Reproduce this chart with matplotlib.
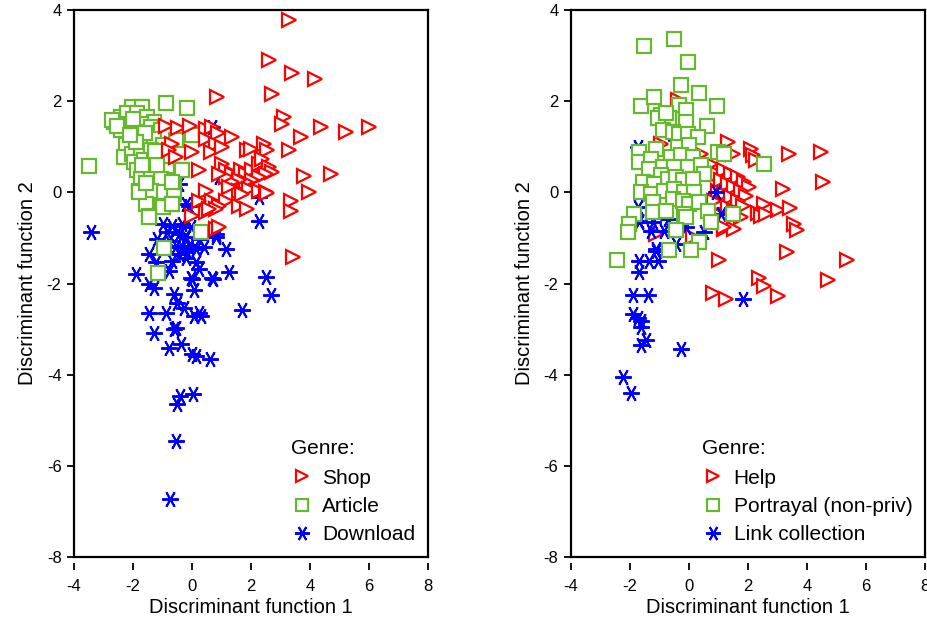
import matplotlib.pyplot as plt
import numpy as np

plt.rcParams['font.family'] = ['Liberation Sans', 'DejaVu Sans']
plt.rcParams['axes.unicode_minus'] = False

# ---- left panel: Shop / Article / Download ----
shop_x = [3.29, 2.61, 3.4, 4.17, 2.72, 0.84, 3.12, 3.05, 4.37, 5.22, 6.0, 3.68, 3.29, 3.8, 4.7,
          3.97, 3.34, 3.34, 3.42, -0.89, -0.46, -0.08, 0.46, 0.68, 0.88, 1.36, 0.46, 0.8, -0.67,
          -0.78, 0.01, 0.63, 1.03, 1.87, 1.99, 2.44, 2.55, -0.55, 0.24, 1.03, 1.14, 1.37, 1.65,
          1.82, 2.04, 2.27, 2.38, 2.61, 2.72, 2.5, 2.27, 2.04, 1.82, 1.59, 1.37, 1.14, 0.92, 1.59,
          1.93, 2.27, 2.5, 2.54, 1.71, 1.25, 0.46, 0.69, 1.14, 1.59, 1.87, 0.24, 0.92, 0.8, 0.46,
          0.58, 0.01, 0.8, 0.92]
shop_y = [3.79, 2.91, 2.61, 2.48, 2.16, 2.09, 1.65, 1.5, 1.43, 1.33, 1.43, 1.21, 0.93, 0.36, 0.41,
          0.0, -0.18, -0.4, -1.41, 1.45, 1.42, 1.45, 1.40, 1.43, 1.31, 1.22, 1.17, 1.07, 1.07,
          0.93, 0.89, 0.89, 0.99, 0.93, 0.96, 1.07, 0.93, 0.78, 0.48, 0.63, 0.48, 0.41, 0.48,
          0.41, 0.48, 0.63, 0.74, 0.56, 0.45, 0.41, 0.34, 0.26, 0.23, 0.26, 0.23, 0.34, 0.41, 0.04,
          0.08, 0.04, 0.01, -0.02, -0.03, 0.12, 0.04, -0.18, -0.18, -0.29, -0.36, -0.18, -0.29, -0.36, -0.43,
          -0.36, -0.51, -0.8, -0.76]

article_x = [-3.49, -2.02, -1.68, -0.89, -0.16, -2.64, -2.42, -2.19, -1.85, -1.51, -1.29, -2.29, -2.08,
             -1.74, -1.4, -2.42, -1.85, -1.06, -0.84, -2.25, -1.29, -1.0, -0.55, -0.04, -2.29, -2.02,
             -1.74, -1.4, -1.06, -1.97, -1.63, -1.29, -0.95, -1.85, -1.51, -1.18, -0.84, -0.38, -1.74,
             -1.4, -1.06, -0.61, -1.8, -1.4, -0.95, -0.61, -1.57, -1.06, -0.67, -1.46, -1.0, -0.01,
             -0.35, -0.67, -1.46, -1.8, -0.67, 0.29, -0.95, -1.15, -2.7, -2.55, -2.0, -1.6, -1.2,
             -1.9, -1.55, -1.25, -2.1, -1.7]
article_y = [0.57, 1.88, 1.88, 1.95, 1.84, 1.55, 1.66, 1.73, 1.73, 1.66, 1.55, 1.51, 1.44,
             1.51, 1.44, 1.37, 1.33, 1.37, 1.26, 1.04, 1.18, 1.04, 1.15, 1.26, 0.78, 0.85,
             0.89, 0.93, 0.85, 0.67, 0.7, 0.67, 0.7, 0.48, 0.48, 0.52, 0.48, 0.48, 0.3,
             0.34, 0.3, 0.26, 0.04, 0.04, 0.01, -0.03, -0.25, -0.29, -0.25, -0.51, -0.32, 1.26,
             0.5, 0.23, -0.54, 0.0, -0.25, -0.86, -1.22, -1.76, 1.58, 1.45, 1.6, 1.3, 0.6,
             1.1, 0.2, 0.9, 1.25, 0.6]

download_x = [-3.41, 2.27, -1.91, -1.46, -1.29, -0.61, -0.5, 0.07, 0.01, 0.71, 1.25, 2.5, 2.69, 1.68,
              -1.46, -0.89, -0.27, 0.07, 0.24, 0.29, -1.29, -0.61, -0.55, -0.78, -0.36, 0.01, 0.12,
              0.6, -0.42, 0.03, -0.5, -0.55, -0.76, -0.1, -1.0, -0.67, -0.33, -0.04, -0.84, -0.44,
              -0.21, -1.18, 0.41, 0.8, -0.55, -0.33, -0.1, 0.12, 0.41, -0.44, -0.16, -1.46, 1.14,
              -0.67, 0.12, -1.23, -0.78, 0.24, -0.04, 0.69, 0.24, -0.78, -0.21, 0.69, -0.44, 0.92,
              2.27, -0.21, 0.8]
download_y = [-0.88, -0.62, -1.8, -2.02, -2.1, -2.23, -2.42, -2.14, -1.9, -1.9, -1.75, -1.85, -2.25, -2.58,
              -2.64, -2.64, -2.53, -2.71, -2.64, -2.71, -3.08, -3.0, -2.97, -3.41, -3.33, -3.55, -3.59,
              -3.66, -4.47, -4.42, -4.65, -5.45, -6.72, -0.29, -0.69, -0.73, -0.69, -0.76, -0.87, -0.91,
              -0.98, -1.02, -0.87, -0.98, -1.17, -1.2, -1.17, -1.24, -1.2, -1.35, -1.31, -1.35, -1.24,
              -1.5, -1.53, -1.53, -1.72, -1.68, -1.87, -1.88, -1.02, -1.06, -1.43, 1.44, 0.19, 0.34,
              -0.1, -0.25, -0.91]

# ---- right panel: Help / Portrayal / Link collection ----
help_x = [1.31, 2.1, 2.16, 2.27, 3.4, 4.47, 4.53, 3.18, 1.48, 0.75, 0.97, 1.2, 1.42, 1.65, 1.87, 2.04,
          1.08, 1.31, 1.54, 1.76, 1.93, 0.97, 1.2, 1.42, 1.65, 1.82, 1.08, 1.31, 1.54, 1.76, 0.86,
          0.97, 2.55, 3.0, 3.43, 2.33, 2.44, 2.61, 3.57, 3.66, 1.2, 1.54, -1.12, 0.12, 3.32, 1.03,
          5.36, 2.38, 2.55, 4.7, 3.0, 0.8, 1.25, -0.38, 0.41, -0.95, 1.2]
help_y = [1.11, 0.96, 0.81, 0.7, 0.85, 0.89, 0.23, 0.08, 0.85, 0.63, 0.41, 0.48, 0.41, 0.34, 0.23, 0.12,
          0.26, 0.19, 0.12, 0.04, -0.07, 0.04, -0.03, -0.1, -0.18, -0.29, -0.25, -0.32, -0.43, -0.54, -0.18,
          -0.47, -0.25, -0.38, -0.34, -0.46, -0.51, -0.47, -0.7, -0.82, -0.8, -0.8, -0.91, -0.98, -1.31, -1.48,
          -1.48, -1.87, -2.05, -1.92, -2.27, -2.2, -2.34, 2.03, 0.85, 1.07, -0.76]

portrayal_x = [-1.54, -0.52, -0.05, -0.27, 0.35, -1.63, -1.2, 0.95, -0.33, -0.1, -0.84, -0.95, -0.67,
               -1.06, -0.78, -0.1, 0.61, -0.89, -0.55, -0.33, -0.04, 0.29, -0.38, 0.01, -1.68, -1.12,
               0.97, 1.18, 2.53, -1.68, -1.29, -0.61, -0.27, 0.12, -0.89, -1.34, -0.5, -0.04, 0.41,
               0.52, -0.95, -0.72, -0.44, -0.21, 0.12, -1.57, -1.18, -1.63, -1.29, -0.84, -0.5, -0.16,
               0.18, -0.55, -0.21, 0.01, 0.35, -1.23, -1.85, -1.23, -0.78, -0.16, 0.63, 1.48, -0.1,
               -2.02, -2.08, -0.44, 0.75, 0.35, -0.67, 0.07, -2.44]
portrayal_y = [3.22, 3.36, 2.87, 2.36, 2.17, 1.89, 2.09, 1.89, 1.92, 1.81, 1.66, 1.7, 1.62,
               1.62, 1.73, 1.55, 1.45, 1.37, 1.33, 1.29, 1.29, 1.22, 1.0, 1.04, 0.89, 0.96,
               0.89, 0.85, 0.63, 0.67, 0.74, 0.78, 0.81, 0.78, 0.56, 0.52, 0.56, 0.56, 0.59,
               0.41, 0.37, 0.3, 0.34, 0.26, 0.3, 0.23, 0.19, 0.01, -0.03, 0.04, 0.08, 0.01,
               0.01, -0.14, -0.18, -0.25, -0.21, -0.21, -0.47, -0.43, -0.4, -0.47, -0.4, -0.47, -0.54,
               -0.7, -0.87, -0.82, -0.65, -1.09, -1.26, -1.26, -1.48]

link_x = [-1.68, -1.34, -1.06, -1.12, -1.68, -1.91, -1.4, -1.91, -1.74, -1.63, -1.63, -1.46, -1.63,
          -0.27, -2.25, -1.97, -0.84, -0.44, 0.52, -1.68, -1.23, 0.92, 1.08, 1.82, -1.12, -1.74,
          -1.68, -1.29, -0.1, -0.72, -1.74, -0.44]
link_y = [-1.5, -1.5, -1.5, -1.28, -1.75, -2.25, -2.25, -2.67, -2.75, -2.82, -2.95, -3.24, -3.35,
          -3.43, -4.05, -4.4, -0.84, -1.13, -0.87, -0.65, -0.65, 0.01, -0.47, -2.33, -1.24, -0.32,
          -0.62, -0.84, -0.76, -0.58, 1.0, 1.15]

red = '#FF0000'
green = '#66B82E'
blue = '#0000FF'
aster = (6, 2, 90)

fig = plt.figure(figsize=(9.28, 6.22), dpi=100)
ax1 = fig.add_axes([74 / 928, 65 / 622, 354 / 928, 547 / 622])
ax2 = fig.add_axes([571 / 928, 65 / 622, 354 / 928, 547 / 622])


def scatter_layer(ax, x, y, kind, color, label):
    if kind == 'tri':
        ax.plot(x, y, ls='none', marker='>', ms=10, mfc='white', mec=color, mew=1.6, label=label)
    elif kind == 'sq':
        ax.plot(x, y, ls='none', marker='s', ms=9.5, mfc='white', mec=color, mew=1.6, label=label)
    else:
        ax.plot(x, y, ls='none', marker=aster, ms=12, mec=color, mew=1.4, label=label)


# left: blue, green, red drawn in that order
scatter_layer(ax1, download_x, download_y, 'ast', blue, 'Download')
scatter_layer(ax1, article_x, article_y, 'sq', green, 'Article')
scatter_layer(ax1, shop_x, shop_y, 'tri', red, 'Shop')
legend_order1 = ['Shop', 'Article', 'Download']

# right: red, blue, green
scatter_layer(ax2, help_x, help_y, 'tri', red, 'Help')
scatter_layer(ax2, link_x, link_y, 'ast', blue, 'Link collection')
scatter_layer(ax2, portrayal_x, portrayal_y, 'sq', green, 'Portrayal (non-priv)')
legend_order2 = ['Help', 'Portrayal (non-priv)', 'Link collection']

for ax, order in ((ax1, legend_order1), (ax2, legend_order2)):
    ax.set_xlim(-4, 8)
    ax.set_ylim(-8, 4)
    ax.set_xticks(np.arange(-4, 9, 2))
    ax.set_yticks(np.arange(-8, 5, 2))
    for s in ax.spines.values():
        s.set_linewidth(1.6)
    # ticks of x axis sit a little below the box
    ax.spines['bottom'].set_position(('outward', 4))
    ax.spines['bottom'].set_color('none')
    ax.plot([0, 1], [0, 0], transform=ax.transAxes, color='black', lw=1.6,
            clip_on=False, solid_capstyle='projecting')
    ax.tick_params(direction='out', length=5, width=1.3, labelsize=12, pad=4)
    ax.tick_params(axis='x', pad=7)
    ax.set_xlabel('Discriminant function 1', fontsize=14.5, labelpad=3)
    ax.set_ylabel('Discriminant function 2', fontsize=14.5, labelpad=7)
    h, l = ax.get_legend_handles_labels()
    hd = dict(zip(l, h))
    leg = ax.legend([hd[k] for k in order], order, title='Genre:', loc='lower right',
                    frameon=False, fontsize=15, title_fontsize=15, alignment='left',
                    handletextpad=0.5, labelspacing=0.45, borderaxespad=0.2, handlelength=1.0,
                    markerscale=0.9)
    leg._legend_box.sep = 8

fig.savefig('out.png', dpi=100)
